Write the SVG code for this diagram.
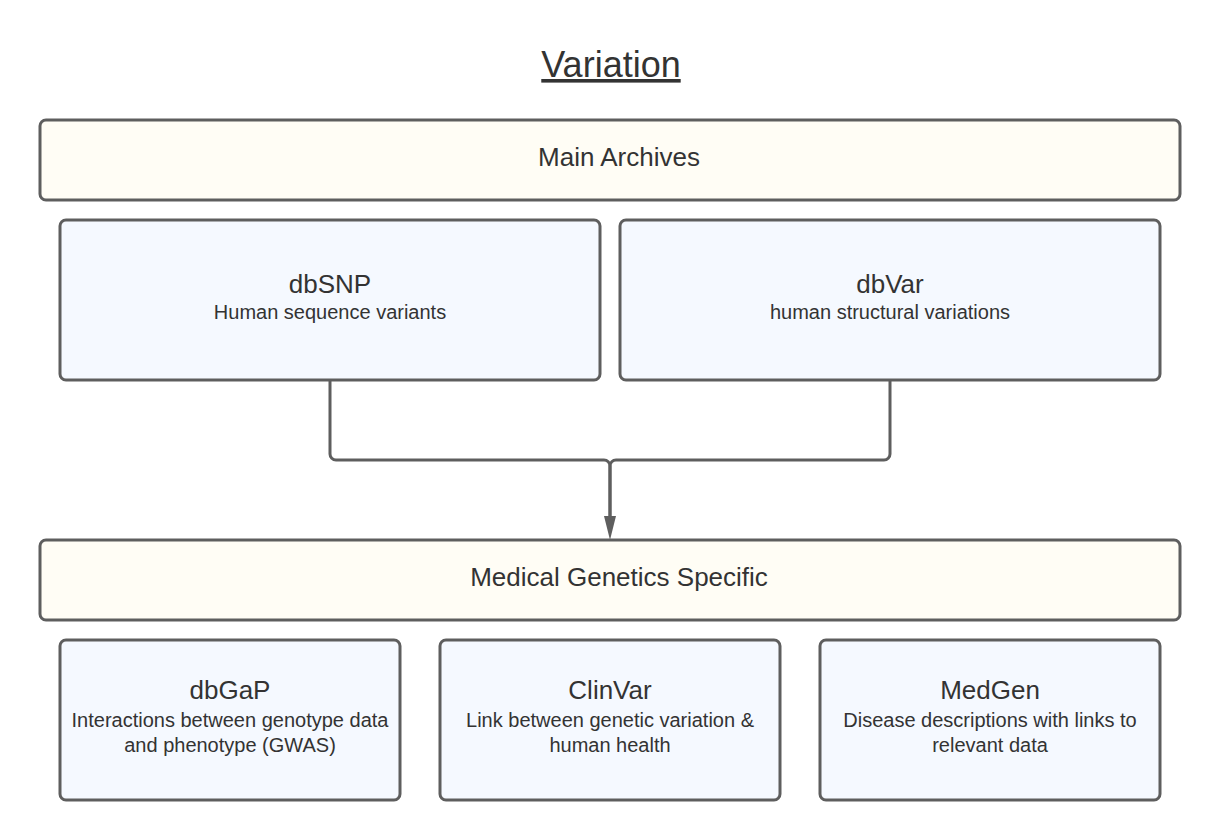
<svg xmlns="http://www.w3.org/2000/svg" width="1220" height="840" viewBox="0 0 1220 840">
<style>
text{font-family:"Liberation Sans",Arial,sans-serif;fill:#333333;text-anchor:middle}
.hdr{fill:#fffdf5;stroke:#5e5e5e;stroke-width:3}
.node{fill:#f5f9ff;stroke:#5e5e5e;stroke-width:3}
.t{font-size:26px}
.s{font-size:20px}
.conn{fill:none;stroke:#5e5e5e;stroke-width:3}
</style>
<defs>
<marker id="arr" viewBox="0 0 24 12" refX="0" refY="6" markerWidth="24" markerHeight="12" markerUnits="userSpaceOnUse" orient="auto">
<path d="M0,0 L24,6 L0,12 z" fill="#5e5e5e"/>
</marker>
</defs>
<rect width="1220" height="840" fill="#ffffff"/>
<text x="611" y="77" style="font-size:36px;text-decoration:underline">Variation</text>
<g id="main-archives">
<rect class="hdr" x="40" y="120" width="1140" height="80" rx="6"/>
<text class="t" x="619" y="166">Main Archives</text>
</g>
<g id="dbsnp">
<rect class="node" x="60" y="220" width="540" height="160" rx="6"/>
<text class="t" x="330" y="293">dbSNP</text>
<text class="s" x="330" y="319">Human sequence variants</text>
</g>
<g id="dbvar">
<rect class="node" x="620" y="220" width="540" height="160" rx="6"/>
<text class="t" x="890" y="293">dbVar</text>
<text class="s" x="890" y="319">human structural variations</text>
</g>
<g id="connectors">
<path class="conn" d="M330,381 V454 A6,6 0 0 0 336,460 H604 A6,6 0 0 1 610,466 V516" marker-end="url(#arr)"/>
<path class="conn" d="M890,381 V454 A6,6 0 0 1 884,460 H616 A6,6 0 0 0 610,466 V516"/>
</g>
<g id="medical-genetics">
<rect class="hdr" x="40" y="540" width="1140" height="80" rx="6"/>
<text class="t" x="619" y="586">Medical Genetics Specific</text>
</g>
<g id="dbgap">
<rect class="node" x="60" y="640" width="340" height="160" rx="6"/>
<text class="t" x="230" y="699">dbGaP</text>
<text class="s" x="230" y="727">Interactions between genotype data</text>
<text class="s" x="230" y="752">and phenotype (GWAS)</text>
</g>
<g id="clinvar">
<rect class="node" x="440" y="640" width="340" height="160" rx="6"/>
<text class="t" x="610" y="699">ClinVar</text>
<text class="s" x="610" y="727">Link between genetic variation &amp;</text>
<text class="s" x="610" y="752">human health</text>
</g>
<g id="medgen">
<rect class="node" x="820" y="640" width="340" height="160" rx="6"/>
<text class="t" x="990" y="699">MedGen</text>
<text class="s" x="990" y="727">Disease descriptions with links to</text>
<text class="s" x="990" y="752">relevant data</text>
</g>
</svg>
